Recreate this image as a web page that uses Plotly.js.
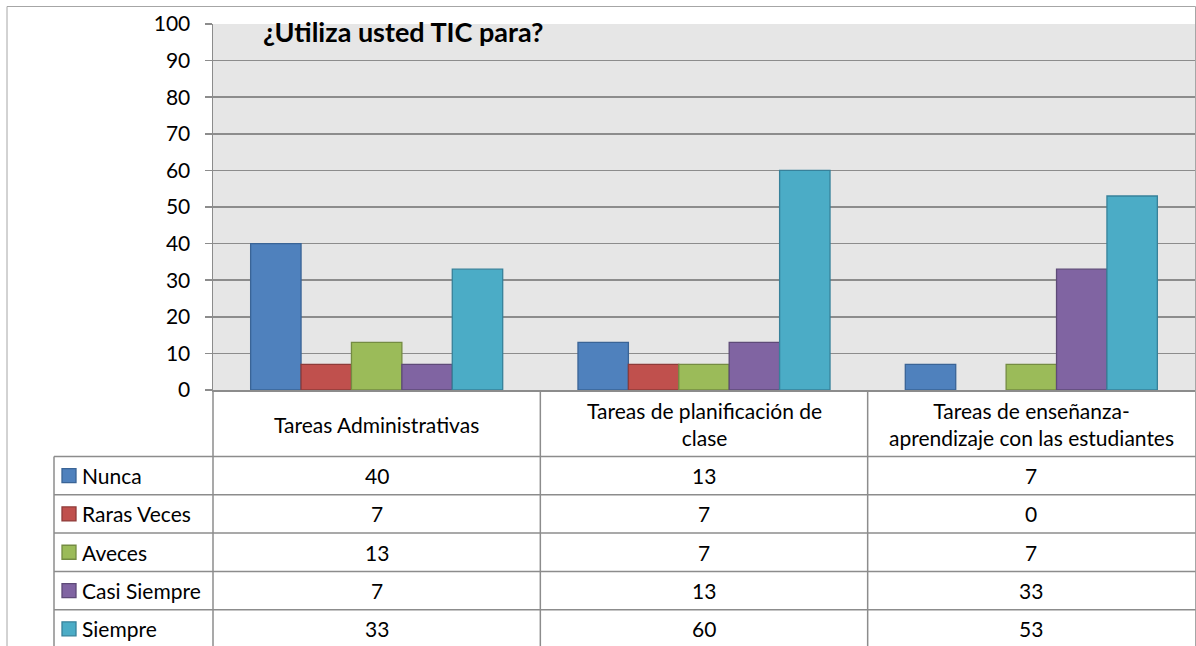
<!DOCTYPE html>
<html>
<head>
<meta charset="utf-8">
<script src="https://cdn.plot.ly/plotly-3.0.1.min.js"></script>
<style>html,body{margin:0;padding:0;background:#fff;}#chart{width:1196px;height:646px;}</style>
</head>
<body>
<div id="chart"></div>
<script>
// ---- data ----
const chartTitle = '¿Utiliza usted TIC para?';
const categories = ['Tareas Administrativas', 'Tareas de planificación de<br>clase', 'Tareas de enseñanza-<br>aprendizaje con las estudiantes'];
const seriesNames = ['Nunca', 'Raras Veces', 'Aveces', 'Casi Siempre', 'Siempre'];
const nunca = [40, 13, 7];
const rarasVeces = [7, 7, 0];
const aveces = [13, 7, 7];
const casiSiempre = [7, 13, 33];
const siempre = [33, 60, 53];
const yTicks = [0, 10, 20, 30, 40, 50, 60, 70, 80, 90, 100];

// ---- styles ----
const fills = ['#4F81BD', '#C0504D', '#9BBB59', '#8064A2', '#4BACC6'];
const edges = ['#3A6496', '#8E3B39', '#748C42', '#5E4A78', '#37819A'];
const seriesValues = [nunca, rarasVeces, aveces, casiSiempre, siempre];
const FONT = 'Lato, "Liberation Sans", Arial, sans-serif';
const FS = 21;
const gridCol = '#8C8C8C';

const W = 1196, H = 646;
const PL = 213, PR = 1195, PT = 24, PB = 390;
const px = v => (v - PL) / (PR - PL);
const py = v => (PB - v) / (PB - PT);

const traces = seriesNames.map((name, s) => ({
  type: 'bar',
  name: name,
  x: categories,
  y: seriesValues[s],
  marker: {color: fills[s], line: {color: edges[s], width: seriesValues[s].map(v => v > 0 ? 1.3 : 0)}},
  hoverinfo: 'skip'
}));

const shapes = [];
const annotations = [];
function hline(y, x0, x1, col, w) {
  shapes.push({type: 'line', xref: 'paper', yref: 'paper', x0: px(x0), x1: px(x1), y0: py(y), y1: py(y), line: {color: col, width: w}});
}
function vline(x, y0, y1, col, w) {
  shapes.push({type: 'line', xref: 'paper', yref: 'paper', x0: px(x), x1: px(x), y0: py(y0), y1: py(y1), line: {color: col, width: w}});
}

// outer border
hline(6.5, 7, 1195.5, '#A6A6A6', 1);
vline(7, 6.5, 660, '#A6A6A6', 1);
vline(1195.5, 6.5, 660, '#A6A6A6', 1);

// data table grid
const tableLeft = 54;
const rowTop = 456.5, rowH = 38.3;
for (let r = 0; r <= seriesNames.length; r++) {
  const y = rowTop + r * rowH;
  if (y < H) hline(y, tableLeft, 1195.5, gridCol, 1.5);
}
vline(tableLeft, rowTop, 660, gridCol, 1.5);
const colW = (PR - PL) / categories.length;
for (let c = 0; c < categories.length; c++) {
  vline(PL + c * colW, PB, 660, gridCol, 1.5);
}

// header labels
categories.forEach(cat => {
  annotations.push({xref: 'x', yref: 'paper', x: cat, y: py(424), text: cat, showarrow: false,
    xanchor: 'center', yanchor: 'middle', align: 'center', font: {family: FONT, size: FS, color: '#000'}});
});

// rows
seriesNames.forEach((name, s) => {
  const yc = rowTop + s * rowH + rowH / 2;
  shapes.push({type: 'rect', xref: 'paper', yref: 'paper', x0: px(62), x1: px(76), y0: py(yc - 7), y1: py(yc + 7),
    fillcolor: fills[s], line: {color: edges[s], width: 1.3}});
  annotations.push({xref: 'paper', yref: 'paper', x: px(80), y: py(yc), text: name, showarrow: false,
    xanchor: 'left', yanchor: 'middle', font: {family: FONT, size: FS, color: '#000'}});
  categories.forEach((cat, c) => {
    annotations.push({xref: 'x', yref: 'paper', x: cat, y: py(yc), text: String(seriesValues[s][c]), showarrow: false,
      xanchor: 'center', yanchor: 'middle', font: {family: FONT, size: FS, color: '#000'}});
  });
});

const layout = {
  width: W, height: H,
  margin: {l: PL, r: W - PR, t: PT, b: H - PB, pad: 0},
  paper_bgcolor: '#FFFFFF',
  plot_bgcolor: '#E6E6E6',
  showlegend: false,
  barmode: 'group',
  bargap: 0.23,
  bargroupgap: 0,
  title: {text: '<b>' + chartTitle + '</b>', x: 263 / W, xanchor: 'left', xref: 'container',
    y: 1 - 33 / H, yanchor: 'middle', yref: 'container', font: {family: FONT, size: 27, color: '#000'}},
  xaxis: {type: 'category', showticklabels: false, showgrid: false, zeroline: false,
    showline: true, linecolor: gridCol, linewidth: 1.5, ticks: '', fixedrange: true},
  yaxis: {range: [0, 100], tickvals: yTicks, ticktext: yTicks.map(String), showgrid: true, gridcolor: gridCol, gridwidth: 1.5,
    zeroline: false, showline: true, linecolor: gridCol, linewidth: 1.5, ticks: 'outside', ticklen: 7,
    tickcolor: gridCol, tickwidth: 1.5, ticklabelstandoff: 10,
    tickfont: {family: FONT, size: FS, color: '#000'}, fixedrange: true},
  shapes: shapes,
  annotations: annotations
};

Plotly.newPlot('chart', traces, layout, {displayModeBar: false, staticPlot: true});
</script>
</body>
</html>
